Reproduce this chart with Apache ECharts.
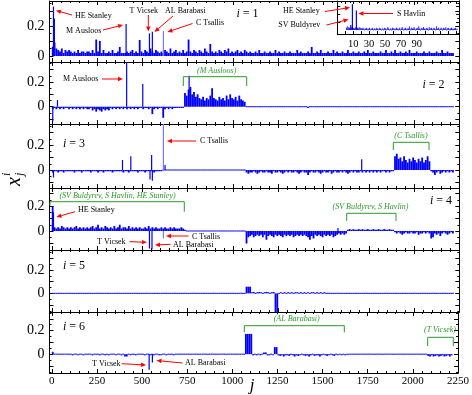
<!DOCTYPE html>
<html><head><meta charset="utf-8">
<script src="https://cdn.jsdelivr.net/npm/echarts@6/dist/echarts.min.js"></script>
<style>html,body{margin:0;padding:0;background:#fff}#c{width:472px;height:395px}</style>
</head><body><div id="c"></div>
<script>
// ---------------- DATA ----------------
const BIN = 10; // each noise value covers 10 consecutive j
const xTickLabels = [0,250,500,750,1000,1250,1500,1750,2000,2250];
const yTickLabels = [0, 0.2];
const insetTickLabels = [10,30,50,70,90];

// i = 1
const p1Noise = [
.06,.09,.05,.04,.03,.05,.02,.04,.03,.04,
.03,.02,.03,.02,.04,.02,.03,.03,.02,.03,
.03,.02,.04,.02,.11,.03,.1,.02,.04,.02,
.02,.03,.02,.04,.02,.02,.03,.06,.02,.02,
.02,.03,.02,.03,.04,.02,.03,.02,.107,.03,
.02,.04,.03,.02,.05,.03,.02,.04,.03,.02,
.03,.02,.04,.03,.02,.05,.02,.03,.04,.02,
.03,.02,.04,.02,.03,.11,.03,.02,.04,.03,
.02,.04,.03,.02,.05,.03,.02,.08,.03,.02,
.03,.02,.04,.03,.02,.04,.03,.05,.02,.03,
.02,.03,.04,.02,.03,.02,.04,.03,.02,.03,
.02,.02,.03,.02,.04,.02,.02,.03,.02,.02,
.03,.02,.02,.04,.02,.03,.02,.02,.03,.02,
.02,.03,.02,.02,.02,.04,.02,.03,.02,.02,
.02,.03,.02,.06,.02,.02,.03,.02,.04,.02,
.02,.02,.03,.02,.02,.04,.02,.03,.02,.02,
.03,.02,.02,.04,.02,.02,.03,.02,.02,.03,
.02,.02,.03,.02,.04,.02,.02,.03,.02,.02,
.02,.03,.02,.02,.04,.02,.02,.03,.02,.04,
.02,.02,.03,.02,.02,.03,.02,.04,.02,.02,
.02,.03,.02,.02,.02,.03,.02,.02,.03,.02,
.02,.02,.03,.02,.02,.04,.02,.02,.03,.02,
.02,.02];
const p1Spikes = [[7,.065],[9,.33],[14,.25],[410,.213],[539,.151],[555,.162]];
const p1LightSpikes = [[616,.167]];
// inset of i = 1, one value per j (j = 1..140)
const insetNoise = [
.03,.05,.02,.04,.03,.02,.03,.04,.02,.03,.02,.03,.04,.02,.03,.02,.04,.02,.03,.02,
.02,.03,.02,.01,.02,.03,.02,.01,.02,.03,.01,.02,.02,.03,.01,.02,.02,.01,.03,.02,
.01,.02,.03,.02,.01,.02,.02,.01,.03,.02,.01,.02,.04,.02,.01,.02,.02,.01,.03,.02,
.02,.01,.02,.03,.02,.01,.02,.03,.01,.02,.04,.02,.01,.02,.03,.02,.01,.02,.02,.05,
.02,.01,.03,.02,.02,.04,.02,.01,.02,.03,.02,.05,.02,.01,.03,.02,.02,.04,.02,.01,
.02,.03,.02,.01,.04,.02,.02,.03,.01,.02,.03,.02,.01,.05,.02,.02,.03,.01,.02,.03,
.02,.01,.03,.02,.02,.04,.01,.02,.03,.02,.01,.02,.03,.02,.01,.02,.02,.03,.01,.02];

// i = 2
const p2Noise = [
-.02,-.01,-.02,-.01,-.02,-.01,-.02,-.01,-.01,-.02,
-.01,-.02,-.01,-.02,-.01,-.02,-.01,-.02,-.01,-.02,
-.02,-.01,-.03,-.02,-.04,-.02,-.03,-.04,-.02,-.03,
-.02,-.03,-.01,-.02,-.01,-.02,-.01,-.02,-.01,-.02,
-.01,-.02,-.01,-.02,-.01,-.02,-.01,-.02,-.01,-.01,
-.02,-.01,-.01,-.02,-.01,-.06,-.02,-.01,-.02,-.01,
-.01,-.09,-.02,-.01,-.02,-.01,-.02,-.01,-.01,-.01,
-.01,-.01,-.01,.11,.09,.14,.16,.1,.12,.08,
.1,.07,.06,.08,.05,.07,.06,.09,.15,.07,
.06,.05,.08,.06,.07,.05,.09,.06,.1,.07,
.06,.08,.05,.09,.06,.05,.04,0,0,0,
0,0,0,0,0,0,0,0,0,0,
0,0,0,0,0,0,0,0,0,0,
0,0,0,0,0,0,0,0,0,0,
0,-.01,0,0,0,0,0,0,0,0,
0,0,0,0,0,0,0,0,0,0,
0,0,0,0,0,0,-.005,0,0,0,
0,0,0,0,0,0,0,0,0,0,
0,0,0,0,0,0,0,0,0,0,
0,0,0,0,0,-.005,0,0,0,0,
0,0,0,0,0,0,0,0,0,0,
0,0,0,0,0,0,0,0,0,0,
0,0];
const p2Spikes = [[5,-.12],[31,.054],[413,.4],[502,.184],[758,.25]];
const p2LightSpikes = [];

// i = 3
const p3Noise = [
-.02,-.01,-.01,-.02,-.01,-.01,-.02,-.01,-.01,-.01,
-.01,-.01,-.02,-.01,-.01,-.01,-.02,-.01,-.01,-.01,
-.01,-.02,-.01,-.01,-.01,-.02,-.01,-.01,-.02,-.01,
-.01,-.01,-.01,-.02,-.01,-.01,-.01,-.01,-.01,-.02,
-.01,-.01,-.02,-.01,-.01,-.01,-.01,-.02,-.01,-.01,
-.01,-.02,-.01,-.01,-.01,-.01,-.02,-.01,-.01,-.01,
-.01,-.005,-.005,.005,.005,0,.005,0,.005,0,
.005,0,.005,0,0,.005,0,0,.005,0,
0,.005,0,0,.005,0,0,0,.005,0,
0,0,.005,0,0,0,.005,0,0,0,
0,.005,0,0,0,0,0,-.02,-.03,-.02,
-.02,-.01,-.02,-.03,-.02,-.01,-.02,-.02,-.01,-.02,
-.02,-.03,-.01,-.02,-.02,-.01,-.02,-.03,-.02,-.01,
-.02,-.01,-.02,-.02,-.01,-.02,-.03,-.02,-.01,-.02,
-.02,-.04,-.02,-.01,-.02,-.02,-.01,-.02,-.03,-.02,
-.01,-.02,-.02,-.01,-.03,-.02,-.01,-.02,-.02,-.01,
-.02,-.01,-.02,-.03,-.02,-.01,-.02,-.01,-.02,-.02,
-.01,-.02,-.01,-.02,-.01,-.02,-.01,-.02,-.01,-.02,
-.01,-.02,-.01,-.01,-.02,-.01,-.02,-.01,-.01,.11,
.13,.09,.1,.07,.11,.08,.06,.09,.07,.1,
.08,.06,.09,.07,.1,.06,.08,.11,.07,-.01,
-.02,-.04,-.02,-.01,-.03,-.02,-.01,-.02,-.01,-.02,
-.01,-.02];
const p3Spikes = [[9,-.06],[390,.08],[436,.11],[542,-.075],[551,.12],[555,-.085],[625,.04],[1711,.086]];
const p3LightSpikes = [[616,.4]];

// i = 4
const p4Noise = [
.05,.03,.02,.03,.02,.04,.03,.02,.03,.02,
.03,.02,.03,.04,.02,.03,.02,.03,.02,.03,
.02,.03,.04,.02,.03,.05,.02,.03,.02,.04,
.03,.02,.03,.02,.04,.02,.03,.05,.02,.03,
.03,.02,.04,.02,.03,.02,.03,.02,.03,.02,
.02,.03,.02,.04,.02,.03,.02,.03,.02,.02,
.03,.02,.03,.02,.02,.03,.02,.03,.02,.02,
.02,.03,.02,.01,0,0,0,0,0,0,
0,0,0,0,0,0,0,0,0,0,
0,0,0,0,0,0,0,0,0,0,
0,0,0,0,0,0,0,-.1,-.05,-.04,
-.03,-.05,-.04,-.03,-.04,-.03,-.05,-.03,-.07,-.04,
-.03,-.04,-.05,-.03,-.04,-.03,-.04,-.05,-.03,-.04,
-.03,-.04,-.03,-.05,-.04,-.03,-.04,-.03,-.04,-.03,
-.04,-.05,-.07,-.04,-.06,-.03,-.04,-.03,-.04,-.05,
-.03,-.04,-.03,-.04,-.03,-.05,-.04,-.03,-.02,-.03,
-.02,-.03,-.02,.01,.015,.01,.015,.01,.01,.015,
.01,.015,.01,.01,.015,.01,.01,.015,.01,.01,
.015,.01,.01,.015,.01,.01,.015,.01,.01,-.01,
-.02,-.01,-.02,-.03,-.02,-.01,-.02,-.02,-.01,-.02,
-.02,-.01,-.03,-.02,-.02,-.01,-.02,-.01,-.02,-.06,
-.05,-.02,-.03,-.02,-.04,-.02,-.01,-.02,-.03,-.02,
-.01,-.02];
const p4Spikes = [[3,.2],[6,.2],[9,.15],[539,-.14],[553,-.145],[1580,.025]];
const p4LightSpikes = [[616,-.06]];

// i = 5
const p5Noise = [
0,0,0,0,0,0,0,0,0,0, 0,0,0,0,0,0,0,0,0,0,
0,0,0,0,0,0,0,0,0,0, 0,0,0,0,0,0,0,0,0,0,
0,0,0,0,0,0,0,0,0,0, 0,0,0,0,0,0,0,0,0,0,
0,0,0,0,0,0,0,0,0,0, 0,0,0,0,0,0,0,0,0,0,
0,0,0,0,0,0,0,0,0,0, 0,0,0,0,0,0,0,0,0,0,
0,0,0,0,0,0,0,.057,.057,.057,
.01,.012,.008,.01,.012,.01,.008,.01,.012,.01,
.008,.01,.012,-.16,-.16,.008,.01,.008,.01,.008,
.01,.008,.01,.008,.01,.01,.008,.01,.008,.01,
.008,.01,.008,.01,.01,.008,.01,.008,.01,.008,
.01,.008,0,0,0,0,0,0,0,0,
0,0,0,0,0,0,0,0,0,0, 0,0,0,0,0,0,0,0,0,0,
0,0,0,0,0,0,0,0,0,0, 0,0,0,0,0,0,0,0,0,0,
0,0,0,0,0,0,0,0,0,0, 0,0,0,0,0,0,0,0,0,0,
0,0];
const p5Spikes = [];
const p5LightSpikes = [];

// i = 6
const p6Noise = [
.02,-.005,-.005,-.005,-.005,-.005,-.005,-.005,-.005,-.005,
-.005,-.01,-.005,-.005,-.01,-.005,-.005,-.01,-.005,-.005,
-.005,-.005,-.01,-.005,-.005,-.005,-.01,-.005,-.005,-.01,
-.005,-.01,-.005,-.005,-.005,-.01,-.005,-.005,-.01,-.005,
-.02,-.02,-.005,-.01,-.005,-.005,-.01,-.005,-.005,-.005,
-.005,-.01,-.005,-.005,-.01,-.005,-.01,-.005,-.005,-.01,
-.01,-.005,-.005,-.01,-.005,-.005,-.005,-.01,-.005,-.005,
-.005,-.005,-.005,0,0,0,0,0,0,0,
0,0,0,0,0,0,0,0,0,0,
0,0,0,0,0,0,0,0,0,0,
0,0,0,0,0,0,0,.172,.172,.172,
.172,-.01,-.005,-.01,-.005,-.01,-.005,.015,.015,-.01,
-.01,-.005,-.01,.06,.06,-.01,-.015,-.01,-.02,-.01,
-.01,-.015,-.005,-.01,-.02,-.01,-.015,-.01,-.005,-.01,
-.015,-.01,-.02,-.01,-.005,-.015,-.01,-.01,-.02,-.01,
-.005,-.01,-.015,-.01,-.005,-.01,-.015,-.005,-.01,-.005,
-.01,-.005,-.01,0,0,0,0,0,0,0,
0,0,0,0,0,0,0,0,0,0,
0,0,0,0,0,0,0,0,0,0,
0,0,0,0,0,0,0,0,0,0,
0,0,0,0,0,0,0,0,-.015,-.02,
-.01,-.02,-.015,-.01,-.02,-.015,-.01,-.02,-.015,-.01,
-.02,-.01];
const p6Spikes = [[539,-.133],[557,-.07]];
const p6LightSpikes = [];

// ---------------- CHART ----------------
const FONT = '"Liberation Serif","Times New Roman",serif';
const BLUE = '#0000ff', LIGHT = '#7a7aff', RED = '#ff0000', GREEN = '#2a9a2a';
const GL = 49.5, GW = 409.8;
const tops = [1,62,124,188,250,312], bots = [62,124,188,250,312,373];
const yRanges = [[-0.04,0.367],[-0.14,0.362],[-0.144,0.368],[-0.152,0.344],[-0.16,0.372],[-0.16,0.358]];
const XMIN = -13, XMAX = 2250;
const xMinor = []; for (let v = 50; v < 2250; v += 50) if (v % 250) xMinor.push(v);
const yMajAll = [-0.1,0,0.1,0.2,0.3], yMinAll = [-0.15,-0.05,0.05,0.15,0.25,0.35];
const noises = [p1Noise,p2Noise,p3Noise,p4Noise,p5Noise,p6Noise];
const spikes = [p1Spikes,p2Spikes,p3Spikes,p4Spikes,p5Spikes,p6Spikes];
const lights = [p1LightSpikes,p2LightSpikes,p3LightSpikes,p4LightSpikes,p5LightSpikes,p6LightSpikes];

const option = {animation:false, backgroundColor:'#fff', grid:[], xAxis:[], yAxis:[], series:[], graphic:[]};
const plain = v => String(Math.round(v * 1000) / 1000);

function axis(dim, g, pos, min, max, ticks, len, lineShow, labelVals, labelStyle){
  const a = {gridIndex:g, type:'value', position:pos, min:min, max:max, silent:true,
    splitLine:{show:false},
    axisLine:{show:lineShow, onZero:false, lineStyle:{color:'#000', width:1}},
    axisTick:{show:true, inside:true, length:len, customValues:ticks, lineStyle:{color:'#000', width:1}},
    axisLabel: labelVals ? Object.assign({show:true, customValues:labelVals, color:'#000', fontFamily:FONT, formatter:plain}, labelStyle) : {show:false}};
  const arr = option[dim + 'Axis']; arr.push(a); return arr.length - 1;
}
function inRange(arr, lo, hi){ return arr.filter(v => v > lo && v < hi); }

function noiseRender(binW){
  return function(params, api){
    const j = api.value(0), v = api.value(1), cs = params.coordSys;
    const a = api.coord([j, 0]), b = api.coord([j + binW, v]);
    let y0 = a[1], y1 = Math.max(cs.y, Math.min(cs.y + cs.height, b[1]));
    let top = Math.min(y0, y1), h = Math.abs(y1 - y0);
    if (h < 1) { top = y0 - 0.5; h = 1; }
    return {type:'rect', shape:{x:a[0], y:top, width:Math.max(b[0]-a[0], 0.8), height:h}, style:{fill:BLUE}};
  };
}
function spikeRender(color){
  return function(params, api){
    const j = api.value(0), v = api.value(1), cs = params.coordSys;
    const a = api.coord([j, 0]), b = api.coord([j, v]);
    if (a[0] < cs.x || a[0] > cs.x + cs.width) return null;
    const y1 = Math.max(cs.y, Math.min(cs.y + cs.height, b[1]));
    return {type:'rect', shape:{x:a[0]-0.6, y:Math.min(a[1], y1), width:1.2, height:Math.abs(y1 - a[1])}, style:{fill:color}};
  };
}
function addSeries(xi, yi, data, render, z){
  option.series.push({type:'custom', coordinateSystem:'cartesian2d', xAxisIndex:xi, yAxisIndex:yi,
    encode:{x:0, y:1}, data:data, renderItem:render, z:z, silent:true});
}

for (let i = 0; i < 6; i++) {
  option.grid.push({left:GL, top:tops[i], width:GW, height:bots[i]-tops[i]});
  const [ymin, ymax] = yRanges[i];
  const yMaj = inRange(yMajAll, ymin, ymax), yMin = inRange(yMinAll, ymin, ymax);
  const xb = axis('x', i, 'bottom', XMIN, XMAX, xTickLabels, 4, true, i === 5 ? xTickLabels : null, {fontSize:11, margin:3});
  axis('x', i, 'bottom', XMIN, XMAX, xMinor, 2, false);
  axis('x', i, 'top', XMIN, XMAX, xTickLabels, 4, true);
  axis('x', i, 'top', XMIN, XMAX, xMinor, 2, false);
  const yl = axis('y', i, 'left', ymin, ymax, yMaj, 4, true, yTickLabels, {fontSize:14, margin:5});
  axis('y', i, 'left', ymin, ymax, yMin, 2, false);
  axis('y', i, 'right', ymin, ymax, yMaj, 4, true);
  axis('y', i, 'right', ymin, ymax, yMin, 2, false);
  addSeries(xb, yl, noises[i].map((v, k) => [k * BIN, v]), noiseRender(BIN), 2);
  addSeries(xb, yl, spikes[i], spikeRender(BLUE), 3);
  addSeries(xb, yl, lights[i], spikeRender(LIGHT), 3);
}

// inset (i = 1, first j values)
(function(){
  const g = 6, IX0 = -10, IX1 = 143, IY0 = -0.05, IY1 = 0.37;
  option.grid.push({left:337.3, top:1, width:121.7, height:33, show:true, backgroundColor:'#fff', borderWidth:0});
  const t = []; for (let v = 0; v <= 140; v += 10) t.push(v);
  const xb = axis('x', g, 'bottom', IX0, IX1, t, 3, true, insetTickLabels, {fontSize:10.5, margin:5});
  axis('x', g, 'top', IX0, IX1, t, 3, true);
  const yl = axis('y', g, 'left', IY0, IY1, [0.1,0.2,0.3], 3, true);
  axis('y', g, 'right', IY0, IY1, [0.1,0.2,0.3], 3, true);
  addSeries(xb, yl, insetNoise.map((v, k) => [k + 1, v]), noiseRender(1), 4);
  addSeries(xb, yl, p1Spikes, spikeRender(BLUE), 5);
})();

// ---------------- ANNOTATIONS ----------------
const G = option.graphic;
function txt(x, y, s, size, color, extra){
  G.push({type:'text', x:x, y:y, z:100, silent:true, style:Object.assign({text:s, fontSize:size, fontFamily:FONT, fill:color, align:'left', verticalAlign:'middle'}, extra || {})});
}
function note(x, y, s){ txt(x, y, s, 8, '#000'); }
function green(cx, y, s, extra){ txt(cx, y, s, 8, GREEN, Object.assign({align:'center', fontStyle:'italic'}, extra || {})); }
function label(x, y, k){
  txt(x, y, '{a|i} = ' + k, 12, '#000', {rich:{a:{fontStyle:'italic', fontSize:12, fontFamily:FONT, fill:'#000'}}});
}
function arrow(x1, y1, x2, y2){
  const dx = x2 - x1, dy = y2 - y1, L = Math.hypot(dx, dy), ux = dx / L, uy = dy / L;
  const hl = 5, hw = 2.2, bx = x2 - ux * hl, by = y2 - uy * hl;
  G.push({type:'line', z:100, silent:true, shape:{x1:x1, y1:y1, x2:bx, y2:by}, style:{stroke:RED, lineWidth:1}});
  G.push({type:'polygon', z:100, silent:true, shape:{points:[[x2, y2],[bx - uy * hw, by + ux * hw],[bx + uy * hw, by - ux * hw]]}, style:{fill:RED}});
}
function bracket(x1, x2, yt, yb1, yb2){
  G.push({type:'polyline', z:100, silent:true, shape:{points:[[x1, yb1],[x1, yt],[x2, yt],[x2, yb2]]}, style:{stroke:GREEN, lineWidth:1, fill:null}});
}

// panel 1
note(75, 15.5, 'HE Stanley'); arrow(72, 15, 56, 10.5);
note(66, 31, 'M Ausloos'); arrow(103, 30, 123, 25);
note(129.5, 11, 'T Vicsek'); arrow(148.3, 15, 148.3, 31.5);
note(165, 11, 'AL Barabasi'); arrow(173, 16, 154.5, 32);
note(196, 23, 'C Tsallis'); arrow(192.5, 23.5, 167.5, 32);
label(236.5, 14, 1);
note(283, 11, 'HE Stanley'); arrow(325, 11.5, 350, 7.5);
note(278.3, 24.5, 'SV Buldyrev'); arrow(326.5, 25, 348.5, 19.5);
note(397, 14, 'S Havlin'); arrow(393, 13.5, 358.5, 13.5);
// panel 2
note(63, 79, 'M Ausloos'); arrow(102, 79, 123, 79);
bracket(183.3, 246.7, 76.7, 86, 86); green(216.7, 71, '(M Ausloos)');
label(422.5, 85, 2);
// panel 3
note(200, 141, 'C Tsallis'); arrow(196, 141, 167, 141);
bracket(393.3, 429, 142.3, 150, 150); green(411, 135.7, '(C Tsallis)');
label(63, 144, 3);
// panel 4
bracket(50, 184.3, 201.7, 205.7, 211.7); green(117.5, 196, '(SV Buldyrev, S Havlin, HE Stanley)');
bracket(346.7, 396, 213.3, 221, 221); green(370.5, 207.3, '(SV Buldyrev, S Havlin)');
note(78, 210, 'HE Stanley'); arrow(75, 211.7, 56.5, 217);
note(192, 237.3, 'C Tsallis'); arrow(188.5, 236, 166, 236);
note(97, 241.7, 'T Vicsek'); arrow(129.5, 241.7, 147, 242.3);
note(173, 244.5, 'AL Barabasi'); arrow(170.5, 244.3, 155, 245);
label(430, 201, 4);
// panel 5
label(63, 266, 5);
// panel 6
bracket(244.3, 344.3, 325.7, 332.3, 332.3); green(296.7, 319.3, '(AL Barabasi)', {backgroundColor:'#fff', padding:[1,30,1,30]});
bracket(427.7, 453.3, 337.3, 346, 346); green(440, 330, '(T Vicsek)');
note(92, 363.7, 'T Vicsek'); arrow(121.7, 363.7, 146, 365);
note(185, 363.3, 'AL Barabasi'); arrow(182.5, 363, 156.5, 360.5);
label(63, 326.7, 6);

// axis titles
txt(252, 386, 'j', 17, '#000', {align:'center', fontStyle:'italic'});
G.push({type:'group', x:15, y:186, rotation:Math.PI / 2, z:100, silent:true, children:[
  {type:'text', x:0, y:0, style:{text:'x', fontSize:20, fontStyle:'italic', fontFamily:FONT, fill:'#000', align:'left', verticalAlign:'middle'}},
  {type:'text', x:10, y:5, style:{text:'j', fontSize:12, fontStyle:'italic', fontFamily:FONT, fill:'#000', align:'left', verticalAlign:'middle'}},
  {type:'text', x:10, y:-8, style:{text:'i', fontSize:12, fontStyle:'italic', fontFamily:FONT, fill:'#000', align:'left', verticalAlign:'middle'}}
]});

const chart = echarts.init(document.getElementById('c'));
chart.setOption(option);
</script>
</body></html>
